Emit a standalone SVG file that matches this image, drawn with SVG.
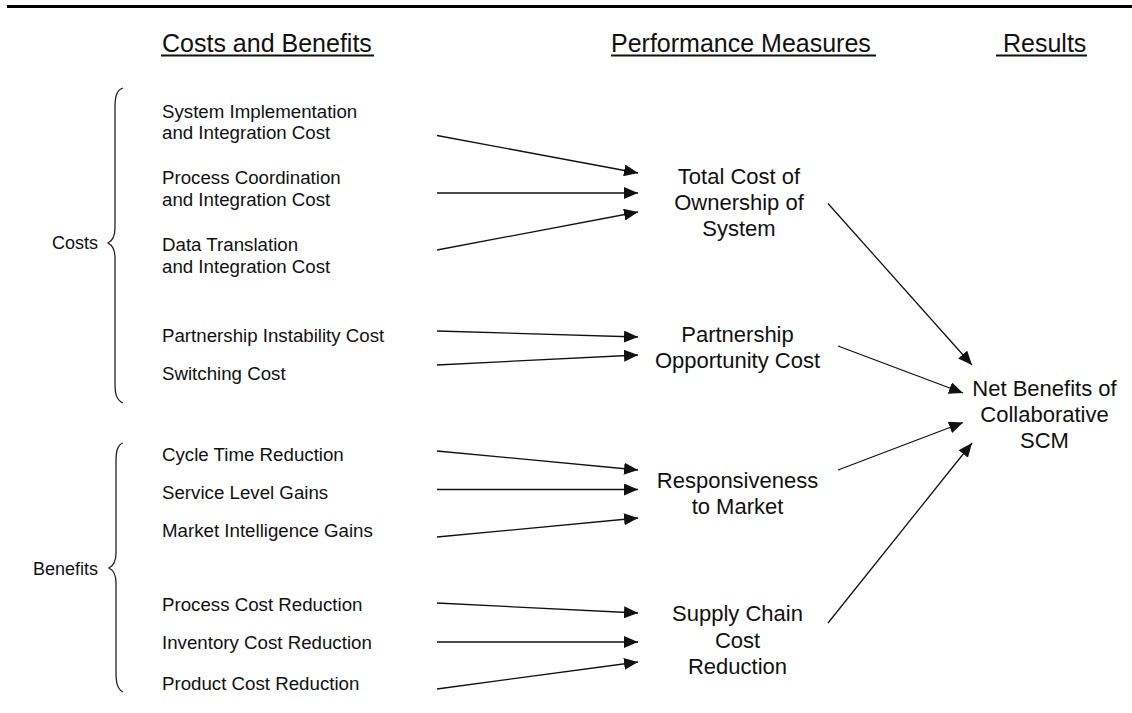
<svg xmlns="http://www.w3.org/2000/svg" width="1132" height="713" viewBox="0 0 1132 713">
  <defs>
    <style>
      .hdr { font-family: "Liberation Sans", Arial, sans-serif; font-size: 25px; fill: #111; }
      .item { font-family: "Liberation Sans", Arial, sans-serif; font-size: 18.7px; fill: #111; }
      .grp { font-family: "Liberation Sans", Arial, sans-serif; font-size: 18px; fill: #111; text-anchor: end; }
      .mid { font-family: "Liberation Sans", Arial, sans-serif; font-size: 22px; fill: #111; text-anchor: middle; }
      .uline { stroke: #111; stroke-width: 2; }
      .brace { fill: none; stroke: #222; stroke-width: 1.3; }
      .conn line { stroke: #111; stroke-width: 1.3; marker-end: url(#arr); }
    </style>
    <marker id="arr" markerUnits="userSpaceOnUse" markerWidth="14" markerHeight="12" refX="14" refY="6" orient="auto">
      <path d="M0,0 L14,6 L0,12 z" fill="#111"/>
    </marker>
  </defs>
  <rect width="1132" height="713" fill="#ffffff"/>
  <rect x="7" y="5" width="1125" height="3" fill="#000"/>

  <g id="headers">
    <text class="hdr" x="162" y="52">Costs and Benefits</text>
    <line class="uline" x1="161" y1="55.5" x2="374" y2="55.5"/>
    <text class="hdr" x="611" y="52">Performance Measures</text>
    <line class="uline" x1="611" y1="55.5" x2="876" y2="55.5"/>
    <text class="hdr" x="1003" y="52">Results</text>
    <line class="uline" x1="996" y1="55.5" x2="1087" y2="55.5"/>
  </g>

  <g id="costs-group">
    <path class="brace" d="M123,88 C116,90 115,98 115,108 L115,228 C115,236 112,241 108,243 C112,245 115,250 115,258 L115,383 C115,393 116,400 123,403"/>
    <text class="grp" x="98" y="249">Costs</text>
  </g>
  <g id="benefits-group">
    <path class="brace" d="M123,443 C117,445 116,452 116,462 L116,553 C116,561 113,566 109,568 C113,570 116,575 116,583 L116,672 C116,682 117,689 123,692"/>
    <text class="grp" x="98" y="575">Benefits</text>
  </g>

  <g id="n-sys-impl"><text class="item" x="162" y="118">System Implementation</text><text class="item" x="162" y="139">and Integration Cost</text></g>
  <g id="n-proc-coord"><text class="item" x="162" y="184">Process Coordination</text><text class="item" x="162" y="206">and Integration Cost</text></g>
  <g id="n-data-trans"><text class="item" x="162" y="251">Data Translation</text><text class="item" x="162" y="273">and Integration Cost</text></g>
  <g id="n-partner-instab"><text class="item" x="162" y="342">Partnership Instability Cost</text></g>
  <g id="n-switching"><text class="item" x="162" y="380">Switching Cost</text></g>
  <g id="n-cycle"><text class="item" x="162" y="461">Cycle Time Reduction</text></g>
  <g id="n-service"><text class="item" x="162" y="499">Service Level Gains</text></g>
  <g id="n-market-intel"><text class="item" x="162" y="537">Market Intelligence Gains</text></g>
  <g id="n-proc-cost"><text class="item" x="162" y="611">Process Cost Reduction</text></g>
  <g id="n-inventory"><text class="item" x="162" y="649">Inventory Cost Reduction</text></g>
  <g id="n-product"><text class="item" x="162" y="690">Product Cost Reduction</text></g>

  <g id="n-tco"><text class="mid" x="739" y="184">Total Cost of</text><text class="mid" x="739" y="210">Ownership of</text><text class="mid" x="739" y="236">System</text></g>
  <g id="n-poc"><text class="mid" x="737.5" y="342">Partnership</text><text class="mid" x="737.5" y="368">Opportunity Cost</text></g>
  <g id="n-resp"><text class="mid" x="737.5" y="488">Responsiveness</text><text class="mid" x="737.5" y="514">to Market</text></g>
  <g id="n-scc"><text class="mid" x="737.5" y="621">Supply Chain</text><text class="mid" x="737.5" y="648">Cost</text><text class="mid" x="737.5" y="674">Reduction</text></g>
  <g id="n-net"><text class="mid" x="1044.5" y="396">Net Benefits of</text><text class="mid" x="1044.5" y="422">Collaborative</text><text class="mid" x="1044.5" y="448">SCM</text></g>

  <g id="connectors" class="conn">
    <line x1="437" y1="135.5" x2="638" y2="173"/>
    <line x1="437" y1="193" x2="638" y2="193"/>
    <line x1="437" y1="250" x2="638" y2="212"/>
    <line x1="437" y1="331" x2="638" y2="337"/>
    <line x1="437" y1="365" x2="638" y2="355"/>
    <line x1="437" y1="451" x2="638" y2="470"/>
    <line x1="437" y1="489.5" x2="638" y2="489.5"/>
    <line x1="437" y1="537" x2="638" y2="518"/>
    <line x1="437" y1="603" x2="638" y2="613"/>
    <line x1="437" y1="642" x2="638" y2="642"/>
    <line x1="437" y1="689" x2="638" y2="662"/>
    <line x1="828" y1="203.5" x2="972" y2="365"/>
    <line x1="838" y1="346" x2="963" y2="393"/>
    <line x1="838" y1="470" x2="963" y2="422.5"/>
    <line x1="828" y1="623" x2="972" y2="443"/>
  </g>
</svg>
